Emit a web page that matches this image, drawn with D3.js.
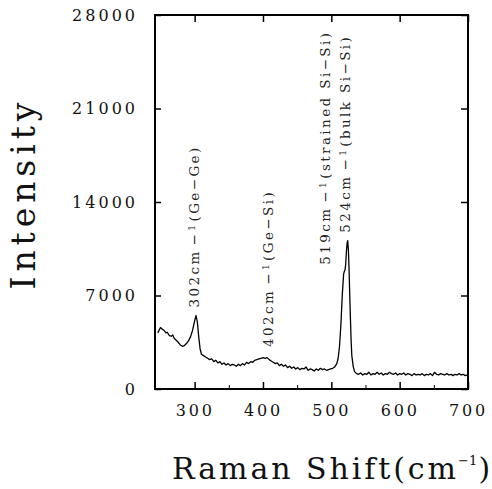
<!DOCTYPE html>
<html>
<head>
<meta charset="utf-8">
<script src="https://cdn.jsdelivr.net/npm/d3@7"></script>
<style>
  body { margin: 0; background: #fff; }
</style>
</head>
<body>
<div id="chart"></div>
<script>
var ramanShift = [246, 250, 252, 255, 258, 260, 263, 266, 268, 270, 273, 276, 279, 282, 285, 288, 291, 294, 297, 300,
    302, 304, 306, 308, 310, 313, 316, 319, 322, 325, 328, 331, 334, 337, 340, 343, 346, 349, 352, 355,
    358, 361, 364, 367, 370, 373, 376, 379, 382, 385, 388, 391, 394, 397, 400, 403, 406, 409, 412, 415,
    418, 421, 424, 427, 430, 433, 436, 439, 442, 445, 448, 451, 454, 457, 460, 463, 466, 469, 472, 475,
    478, 481, 484, 487, 490, 493, 496, 499, 502, 505, 508, 510, 512, 514, 516, 518, 519, 520, 521, 522,
    523, 524, 525, 526, 527, 528, 529, 530, 532, 534, 537, 540, 543, 546, 549, 552, 555, 558, 561, 564,
    567, 570, 573, 576, 579, 582, 585, 588, 591, 594, 597, 600, 603, 606, 609, 612, 615, 618, 621, 624,
    627, 630, 633, 636, 639, 642, 645, 648, 651, 654, 657, 660, 663, 666, 669, 672, 675, 678, 681, 684,
    687, 690, 693, 696, 699, 700];
var intensity = [4200, 4600, 4500, 4400, 4200, 4250, 4000, 3950, 4050, 3800, 3650, 3500, 3300, 3200, 3250, 3400, 3600, 3900, 4400, 5100,
    5500, 5000, 3900, 3000, 2600, 2500, 2400, 2300, 2200, 2250, 2050, 2150, 1950, 2050, 1850, 1950, 1800, 1900, 1750, 1850,
    1800, 1700, 1850, 1750, 1900, 1800, 2000, 1900, 2050, 2000, 2150, 2200, 2250, 2300, 2350, 2300, 2350, 2200, 2100, 2000,
    1900, 1950, 1750, 1850, 1700, 1800, 1600, 1700, 1550, 1650, 1500, 1600, 1450, 1550, 1500, 1650, 1400, 1500, 1450, 1350,
    1500, 1400, 1550, 1450, 1500, 1400, 1450, 1500, 1550, 1650, 1900, 2300, 3200, 4800, 7000, 8600, 8800, 8900, 9300, 10200,
    10900, 11100, 10400, 8900, 7000, 5200, 3600, 2500, 1700, 1300, 1150, 1100, 1200, 1050, 1150, 1100, 1250, 1050, 1150, 1100,
    1250, 1100, 1200, 1050, 1150, 1100, 1250, 1150, 1100, 1200, 1050, 1150, 1100, 1200, 1050, 1150, 1100, 1000, 1150, 1050,
    1100, 1050, 1150, 1000, 1100, 1050, 1150, 1000, 1250, 1100, 1050, 1150, 1100, 1050, 1150, 1050, 1100, 1000, 1100, 1050,
    1150, 1050, 1100, 1000, 1050, 1100];

var xTicks = [300, 400, 500, 600, 700];
var xMinorTicks = [350, 450, 550, 650];
var yTicks = [0, 7000, 14000, 21000, 28000];

// peak annotations: where each label sits (shift, intensity at its start), label, bond
var peakLabelX = [306, 415, 498, 527.5];
var peakLabelY = [6100, 3150, 9300, 11700];
var peakWave = ["302cm", "402cm", "519cm", "524cm"];
var peakBond = ["(Ge\u2212Ge)", "(Ge\u2212Si)", "(strained Si\u2212Si)", "(bulk Si\u2212Si)"];

var margin = {top: 15, right: 24, bottom: 100, left: 155},
    width = 492 - margin.left - margin.right,
    height = 489 - margin.top - margin.bottom;

var svg = d3.select("#chart")
    .append("svg")
    .attr("width", 492)
    .attr("height", 489)
    .append("g")
    .attr("transform", "translate(" + margin.left + "," + margin.top + ")");

var x = d3.scaleLinear().domain([242, 700]).range([0, width]);
var y = d3.scaleLinear().domain([0, 28000]).range([height, 0]);

var serif = "'DejaVu Serif', serif";

// frame
svg.append("rect")
    .attr("width", width)
    .attr("height", height)
    .attr("fill", "none")
    .attr("stroke", "#000")
    .attr("stroke-width", 2);

// bottom axis (ticks pointing inward)
svg.append("g")
    .attr("transform", "translate(0," + height + ")")
    .call(d3.axisBottom(x).tickValues(xTicks).tickSize(-7).tickPadding(16).tickFormat(d3.format("d")))
    .call(function (g) {
        g.select(".domain").remove();
        g.selectAll("line").attr("stroke-width", 1.5);
        g.selectAll("text")
            .style("font-family", serif)
            .style("font-size", "16px")
            .style("letter-spacing", "2.8px")
            .attr("fill", "#111");
    });
svg.append("g")
    .attr("transform", "translate(0," + height + ")")
    .call(d3.axisBottom(x).tickValues(xMinorTicks).tickSize(-4).tickFormat(""))
    .call(function (g) { g.select(".domain").remove(); });

// top axis
svg.append("g")
    .call(d3.axisTop(x).tickValues(xTicks).tickSize(-7).tickFormat(""))
    .call(function (g) { g.select(".domain").remove(); g.selectAll("line").attr("stroke-width", 1.5); });

// left axis
svg.append("g")
    .call(d3.axisLeft(y).tickValues(yTicks).tickSize(-6).tickPadding(17).tickFormat(d3.format("d")))
    .call(function (g) {
        g.select(".domain").remove();
        g.selectAll("line").attr("stroke-width", 1.5);
        g.selectAll("text")
            .style("font-family", serif)
            .style("font-size", "16px")
            .style("letter-spacing", "3px")
            .attr("fill", "#111");
    });

// right axis
svg.append("g")
    .attr("transform", "translate(" + width + ",0)")
    .call(d3.axisRight(y).tickValues(yTicks).tickSize(-7).tickFormat(""))
    .call(function (g) { g.select(".domain").remove(); g.selectAll("line").attr("stroke-width", 1.5); });

// spectrum
var data = ramanShift.map(function (d, i) { return {shift: d, value: intensity[i]}; });
svg.append("path")
    .datum(data)
    .attr("fill", "none")
    .attr("stroke", "#000")
    .attr("stroke-width", 1.3)
    .attr("stroke-linejoin", "round")
    .attr("d", d3.line()
        .x(function (d) { return x(d.shift); })
        .y(function (d) { return y(d.value); })
    );

// peak labels, rotated
peakLabelX.forEach(function (p, i) {
    var t = svg.append("text")
        .attr("transform", "translate(" + x(p) + "," + y(peakLabelY[i]) + ") rotate(-90)")
        .style("font-family", serif)
        .style("font-size", "13.5px")
        .style("letter-spacing", "2.4px")
        .attr("fill", "#222");
    t.append("tspan").text(peakWave[i]);
    t.append("tspan").attr("dx", 4).text("\u2212");
    t.append("tspan").attr("dy", -4).attr("dx", 1).style("font-size", "9px").text("1");
    t.append("tspan").attr("dy", 4).attr("dx", 1).text(peakBond[i]);
});

// y axis title
svg.append("text")
    .attr("transform", "translate(" + (-120) + "," + (height / 2 - 6) + ") rotate(-90)")
    .style("text-anchor", "middle")
    .style("font-family", serif)
    .style("font-size", "33px")
    .attr("textLength", 187)
    .attr("lengthAdjust", "spacing")
    .attr("fill", "#111")
    .text("Intensity");

// x axis title, placed as three pieces so the superscript fits
var titleY = height + 90;
svg.append("text")
    .attr("x", 172 - margin.left)
    .attr("y", titleY)
    .style("font-family", serif)
    .style("font-size", "30px")
    .attr("textLength", 284)
    .attr("lengthAdjust", "spacing")
    .attr("fill", "#111")
    .text("Raman Shift(cm");
svg.append("text")
    .attr("x", 458 - margin.left)
    .attr("y", titleY - 14)
    .style("font-family", serif)
    .style("font-size", "13px")
    .attr("fill", "#111")
    .text("\u22121");
svg.append("text")
    .attr("x", 478.5 - margin.left)
    .attr("y", titleY)
    .style("font-family", serif)
    .style("font-size", "30px")
    .attr("fill", "#111")
    .text(")");
</script>
</body>
</html>
